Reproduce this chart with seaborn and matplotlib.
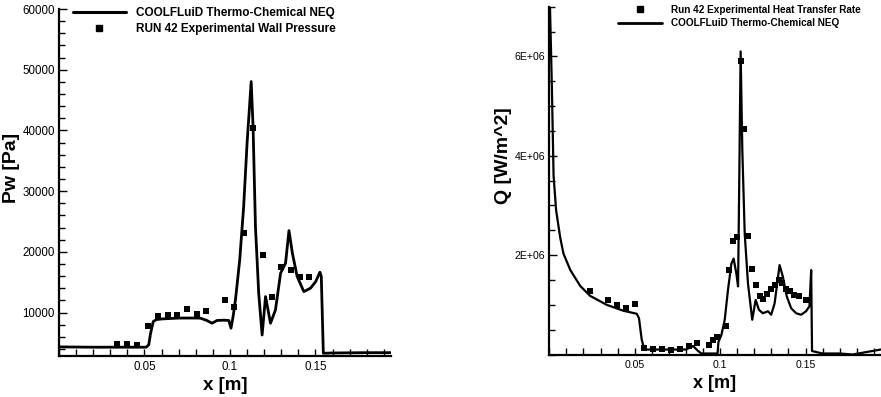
import matplotlib
matplotlib.use("Agg")
import matplotlib.pyplot as plt
import seaborn as sns
import pandas as pd
from matplotlib.ticker import FixedLocator, MultipleLocator
from matplotlib.lines import Line2D

# ---------------- data ----------------
# Left panel: wall pressure
x_p = [0.0, 0.02, 0.04, 0.051, 0.0525, 0.0535, 0.0551, 0.057, 0.06, 0.07, 0.08,
       0.0827, 0.0865, 0.0895, 0.0924, 0.0965, 0.0993, 0.1006, 0.1018, 0.1032,
       0.1057, 0.1080, 0.1100, 0.1124, 0.1135, 0.1149, 0.1168, 0.1188, 0.1208,
       0.1237, 0.1266, 0.1296, 0.1325, 0.1345, 0.1365, 0.1393, 0.1432, 0.1471,
       0.1501, 0.1526, 0.1534, 0.1546, 0.16, 0.18, 0.194]
p_cfd = [4350, 4300, 4300, 4300, 4700, 6500, 8520, 8850, 8950, 9100, 9100,
         9080, 8700, 8250, 8700, 8750, 8700, 7430, 9300, 12090,
         18680, 27460, 37900, 48050, 40630, 24160, 13200, 6310, 12640,
         8250, 10440, 16490, 18140, 23500, 19780, 15930, 13460, 14020,
         15100, 16650, 16000, 3300, 3350, 3400, 3400]
xe_p = [0.0342, 0.0400, 0.0459, 0.0520, 0.0578, 0.0637, 0.0690, 0.0748, 0.0807,
        0.0862, 0.0969, 0.1022, 0.1080, 0.1133, 0.1192, 0.1245, 0.1299, 0.1354,
        0.1409, 0.1461]
p_exp = [4850, 4850, 4730, 7860, 9460, 9570, 9570, 10610, 9790,
         10330, 12090, 10990, 23080, 40470, 19500, 12640, 17580, 17030,
         15930, 15930]

# Right panel: heat transfer rate
x_q = [0.0004, 0.0015, 0.0025, 0.004, 0.0064, 0.0083, 0.0123, 0.0181, 0.0239,
       0.0336, 0.0434, 0.0512, 0.0525, 0.0541, 0.0555, 0.057, 0.07, 0.08,
       0.0842, 0.0871, 0.0891, 0.095, 0.0985, 0.0990, 0.1008, 0.1027, 0.1046,
       0.1066, 0.1079, 0.1095, 0.1105, 0.1112, 0.1120, 0.1130, 0.1144, 0.1163,
       0.1188, 0.1208, 0.1227, 0.1250, 0.1280, 0.1299, 0.1319, 0.1348, 0.1367,
       0.1390, 0.1416, 0.1445, 0.1474, 0.1503, 0.1523, 0.1533, 0.1538, 0.16,
       0.17, 0.1776, 0.194]
q_cfd = [7.0e6, 5.4e6, 3.6e6, 2.9e6, 2.35e6, 2.03e6, 1.70e6, 1.38e6, 1.18e6,
         1.00e6, 0.88e6, 0.82e6, 0.73e6, 0.30e6, 0.12e6, 0.10e6, 0.10e6, 0.10e6,
         0.17e6, 0.07e6, 0.02e6, 0.02e6, 0.02e6, 0.25e6, 0.40e6, 0.70e6, 1.30e6,
         1.83e6, 1.93e6, 1.63e6, 1.37e6, 3.5e6, 6.1e6, 4.1e6, 2.43e6, 1.43e6,
         0.70e6, 1.10e6, 0.90e6, 0.83e6, 0.87e6, 0.80e6, 1.03e6, 1.80e6, 1.57e6,
         1.17e6, 0.93e6, 0.83e6, 0.80e6, 0.87e6, 0.97e6, 1.70e6, 0.07e6, 0.02e6,
         0.02e6, 0.0, 0.10e6]
xe_q = [0.0239, 0.0346, 0.0399, 0.0451, 0.0504, 0.0556, 0.0609, 0.0661, 0.0714,
        0.0764, 0.0817, 0.0867, 0.0934, 0.0959, 0.0984, 0.1033, 0.1052, 0.1075,
        0.1099, 0.1124, 0.1140, 0.1163, 0.1188, 0.1212, 0.1231, 0.1250, 0.1274,
        0.1295, 0.1319, 0.1342, 0.1363, 0.1387, 0.1410, 0.1435, 0.1459, 0.1503]
q_exp = [1.28e6, 1.10e6, 0.99e6, 0.94e6, 1.02e6, 0.13e6, 0.12e6, 0.12e6, 0.10e6,
         0.11e6, 0.17e6, 0.23e6, 0.19e6, 0.29e6, 0.35e6, 0.58e6, 1.70e6, 2.28e6,
         2.37e6, 5.91e6, 4.53e6, 2.38e6, 1.72e6, 1.40e6, 1.17e6, 1.12e6, 1.21e6,
         1.31e6, 1.40e6, 1.50e6, 1.43e6, 1.31e6, 1.27e6, 1.20e6, 1.17e6, 1.09e6]

x_ticks = [0.05, 0.1, 0.15]
x_ticklabels = ["0.05", "0.1", "0.15"]
p_ticks = [10000, 20000, 30000, 40000, 50000, 60000]
p_ticklabels = ["10000", "20000", "30000", "40000", "50000", "60000"]
q_ticks = [2e6, 4e6, 6e6]
q_ticklabels = ["2E+06", "4E+06", "6E+06"]

label_cfd = "COOLFLuiD Thermo-Chemical NEQ"
label_pexp = "RUN 42 Experimental Wall Pressure"
label_qexp = "Run 42 Experimental Heat Transfer Rate"

# ---------------- style ----------------
sns.set_style("ticks")
plt.rcParams["font.family"] = ["Liberation Sans", "DejaVu Sans"]
plt.rcParams["text.color"] = "black"
plt.rcParams["axes.labelcolor"] = "black"
plt.rcParams["xtick.color"] = "black"
plt.rcParams["ytick.color"] = "black"
plt.rcParams["axes.edgecolor"] = "black"

fig = plt.figure(figsize=(8.81, 3.97), dpi=100)
axL = fig.add_axes([59 / 881, 1 - 355.7 / 397, 331.7 / 881, 346.7 / 397])
axR = fig.add_axes([549.3 / 881, 1 - 354.5 / 397, 331.4 / 881, 347.8 / 397])

df_p = pd.DataFrame({"x": x_p, "y": p_cfd})
df_pe = pd.DataFrame({"x": xe_p, "y": p_exp})
df_q = pd.DataFrame({"x": x_q, "y": q_cfd})
df_qe = pd.DataFrame({"x": xe_q, "y": q_exp})

sns.lineplot(data=df_p, x="x", y="y", ax=axL, color="black", lw=2.0,
             estimator=None, sort=False, zorder=2)
sns.scatterplot(data=df_pe, x="x", y="y", ax=axL, color="black", marker="s",
                s=17, linewidth=0, zorder=3)
sns.lineplot(data=df_q, x="x", y="y", ax=axR, color="black", lw=1.6,
             estimator=None, sort=False, zorder=2)
sns.scatterplot(data=df_qe, x="x", y="y", ax=axR, color="black", marker="s",
                s=16, linewidth=0, zorder=3)

for ax in (axL, axR):
    sns.despine(ax=ax, top=True, right=True)
    ax.spines["left"].set_linewidth(1.6)
    ax.spines["bottom"].set_linewidth(1.6)
    ax.set_xlim(0, 0.194)
    ax.xaxis.set_major_locator(FixedLocator(x_ticks))
    ax.set_xticklabels(x_ticklabels)
    ax.xaxis.set_minor_locator(MultipleLocator(0.01))
    ax.tick_params(which="both", direction="in", width=1.0, colors="black")
    ax.tick_params(axis="x", which="major", length=5, pad=4)
    ax.tick_params(axis="x", which="minor", length=5)
    ax.tick_params(axis="y", which="major", length=6, pad=3)
    ax.tick_params(axis="y", which="minor", length=4)
    ax.grid(False)

axL.set_ylim(2900, 60000)
axL.yaxis.set_major_locator(FixedLocator(p_ticks))
axL.set_yticklabels(p_ticklabels)
axL.yaxis.set_minor_locator(MultipleLocator(2000))
axL.tick_params(labelsize=8.3)

axR.set_ylim(0, 7e6)
axR.yaxis.set_major_locator(FixedLocator(q_ticks))
axR.set_yticklabels(q_ticklabels)
axR.yaxis.set_minor_locator(MultipleLocator(5e5))
axR.tick_params(labelsize=7.6)

axL.set_xlabel("x [m]", fontsize=13.5, fontweight="bold")
axL.set_ylabel("Pw [Pa]", fontsize=14, fontweight="bold")
axL.xaxis.set_label_coords(0.5, -0.06)
axL.yaxis.set_label_coords(-0.118, 0.541)

axR.set_xlabel("x [m]", fontsize=13, fontweight="bold")
axR.set_ylabel("Q [W/m^2]", fontsize=14, fontweight="bold")
axR.xaxis.set_label_coords(0.5, -0.06)
axR.yaxis.set_label_coords(-0.113, 0.571)

# legends
h_line = Line2D([], [], color="black", lw=2.2)
h_mark = Line2D([], [], color="black", marker="s", ls="none", markersize=4.5)
axL.legend([h_line, h_mark], [label_cfd, label_pexp], loc="upper left",
           bbox_to_anchor=(0.042, 1.005), frameon=False, borderpad=0,
           borderaxespad=0, handlelength=4.5, handletextpad=0.8,
           labelspacing=0.35, prop={"weight": "bold", "size": 8.5})
h_line2 = Line2D([], [], color="black", lw=2.0)
h_mark2 = Line2D([], [], color="black", marker="s", ls="none", markersize=4.2)
axR.legend([h_mark2, h_line2], [label_qexp, label_cfd], loc="upper left",
           bbox_to_anchor=(0.207, 1.005), frameon=False, borderpad=0,
           borderaxespad=0, handlelength=4.4, handletextpad=0.9,
           labelspacing=0.35, prop={"weight": "bold", "size": 7.2})

fig.savefig("out.png", dpi=100)
